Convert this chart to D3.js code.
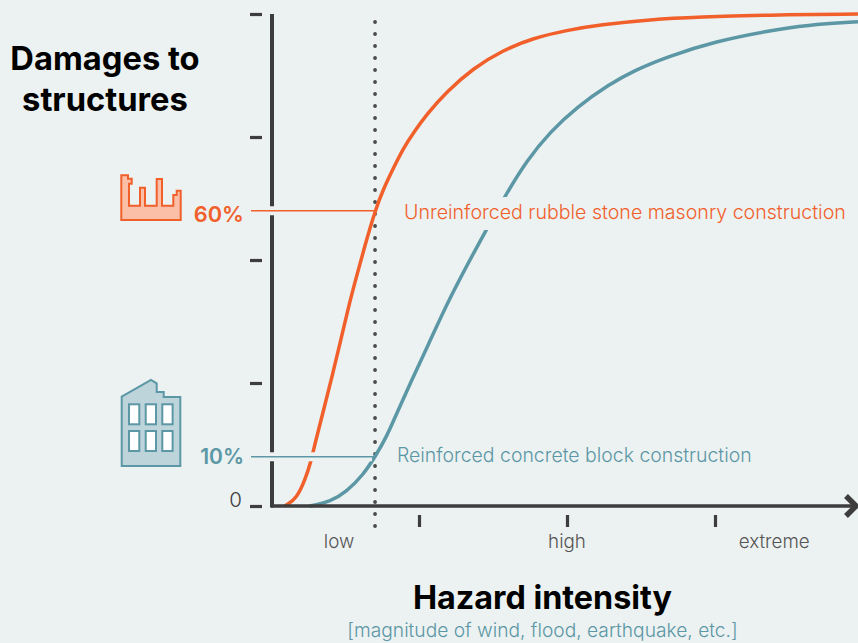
<!DOCTYPE html>
<html>
<head>
<meta charset="utf-8">
<script src="https://cdn.jsdelivr.net/npm/d3@7"></script>
<style>
    html, body { margin: 0; padding: 0; background: #ecf1f1; overflow: hidden; }
    svg { display: block; }
    text { font-family: "Inter", "Open Sans", sans-serif; }
</style>
</head>
<body>
<div id="chart"></div>
<script>
// Values: x in hazard units (low tick = 1, high = 2, extreme = 3), y in % damage
const orangeX = [0.09, 0.106, 0.174, 0.23, 0.27, 0.297, 0.353, 0.41, 0.466, 0.527, 0.572, 0.635, 0.703, 0.759, 0.826, 0.894, 0.961, 1.052, 1.187, 1.367, 1.57, 1.772, 1.998, 2.223, 2.561, 2.899, 3.349, 3.966];
const orangeY = [0, 0.2, 1.6, 5.3, 9, 12.7, 19.2, 26, 33, 40.9, 46, 53, 60, 64.4, 68.6, 72.7, 75.8, 79.6, 84.2, 89, 92.7, 95.1, 96.7, 97.8, 98.9, 99.4, 99.8, 100];
const tealX = [0.26, 0.284, 0.399, 0.511, 0.622, 0.703, 0.782, 0.849, 0.939, 1.059, 1.209, 1.446, 1.593, 1.728, 1.885, 2.066, 2.291, 2.446, 2.674, 3.011, 3.349, 3.62, 3.966];
const tealY = [0, 0.1, 0.9, 2.9, 6.3, 10, 14.1, 18.8, 24.8, 32.5, 42.5, 55.7, 63.6, 70.2, 76, 81.1, 85.8, 88.4, 91.3, 94.5, 96.5, 97.8, 98.4];
const xTicks = [1, 2, 3];
const yTicks = [0, 25, 50, 75, 100];
const xLabels = ["low", "high", "extreme"];
const xLabelPos = [0.46, 2, 3.4];
const marker = 0.703;
const markerValues = [60, 10];
const markerLabels = ["60%", "10%"];
const curveNames = ["Unreinforced rubble stone masonry construction", "Reinforced concrete block construction"];

const width = 858, height = 643;
const bg = "#ecf1f1", dark = "#3d3d3d", orange = "#f15f2b", teal = "#5b97a5";

const x = d3.scaleLinear().domain([0, 3]).range([271, 715]);
const y = d3.scaleLinear().domain([0, 100]).range([506, 14]);

const svg = d3.select("#chart").append("svg")
    .attr("width", width)
    .attr("height", height);

// Tick marks, set apart from the axis lines
const yAxis = svg.append("g")
    .attr("transform", "translate(262,0)")
    .call(d3.axisLeft(y).tickValues(yTicks).tickSize(12).tickFormat(""));
const xAxis = svg.append("g")
    .attr("transform", "translate(0,515)")
    .call(d3.axisBottom(x).tickValues(xTicks).tickSize(12).tickFormat(""));
[yAxis, xAxis].forEach(a => {
    a.select(".domain").remove();
    a.selectAll("line").attr("stroke", dark).attr("stroke-width", 3.2);
});

// Axis lines
svg.append("line")
    .attr("x1", x(0) + 1).attr("x2", x(0) + 1)
    .attr("y1", y(100)).attr("y2", y(0) + 1.5)
    .attr("stroke", dark).attr("stroke-width", 4);

// Dotted marker
svg.append("line")
    .attr("x1", x(marker)).attr("x2", x(marker))
    .attr("y1", 22).attr("y2", 528)
    .attr("stroke", "#4a4a4a").attr("stroke-width", 3.8)
    .attr("stroke-linecap", "round")
    .attr("stroke-dasharray", "0.1 11.9");

// Curves
const line = d3.line()
    .x(d => x(d[0]))
    .y(d => y(d[1]))
    .curve(d3.curveBasis);

svg.append("path")
    .attr("d", line(d3.zip(tealX, tealY)))
    .attr("fill", "none").attr("stroke", teal).attr("stroke-width", 3.5);
svg.append("path")
    .attr("d", line(d3.zip(orangeX, orangeY)))
    .attr("fill", "none").attr("stroke", orange).attr("stroke-width", 3.5);

// x axis goes over the feet of the curves
svg.append("line")
    .attr("x1", x(0)).attr("x2", 854)
    .attr("y1", y(0)).attr("y2", y(0))
    .attr("stroke", dark).attr("stroke-width", 3.5);
svg.append("path")
    .attr("d", `M846,${y(0) - 10}L856,${y(0)}L846,${y(0) + 10}`)
    .attr("fill", "none").attr("stroke", dark).attr("stroke-width", 5.5);

// Reference lines with a gap cut through whatever they cross
markerValues.forEach((v, i) => {
    const col = i === 0 ? orange : teal;
    svg.append("line")
        .attr("x1", 251).attr("x2", x(marker) - 3)
        .attr("y1", y(v)).attr("y2", y(v))
        .attr("stroke", bg).attr("stroke-width", 9);
    svg.append("line")
        .attr("x1", 251).attr("x2", x(marker))
        .attr("y1", y(v)).attr("y2", y(v))
        .attr("stroke", col).attr("stroke-width", 1.6);
    svg.append("text")
        .attr("x", 244).attr("y", y(v) + (i === 0 ? 11 : 7))
        .attr("text-anchor", "end")
        .attr("font-size", i === 0 ? 21.8 : 21).attr("font-weight", 600)
        .attr("fill", col)
        .text(markerLabels[i]);
});

// Curve names
svg.append("text")
    .attr("x", 404).attr("y", 219)
    .attr("font-size", 19.6).attr("font-weight", 300)
    .attr("fill", orange)
    .attr("stroke", bg).attr("stroke-width", 22).attr("paint-order", "stroke")
    .text(curveNames[0]);
svg.append("text")
    .attr("x", 397).attr("y", 462)
    .attr("font-size", 19.45).attr("font-weight", 300)
    .attr("fill", teal)
    .text(curveNames[1]);

// Axis text
svg.append("text")
    .attr("x", 242).attr("y", 507)
    .attr("text-anchor", "end")
    .attr("font-size", 20.5).attr("font-weight", 300)
    .attr("fill", dark)
    .text("0");
svg.selectAll(".xlab")
    .data(xLabels)
    .enter()
    .append("text")
    .attr("class", "xlab")
    .attr("x", (d, i) => x(xLabelPos[i]))
    .attr("y", 548)
    .attr("text-anchor", "middle")
    .attr("font-size", 18.8).attr("font-weight", 300)
    .attr("fill", "#555")
    .text(d => d);

// Titles
[["Damages to", 70], ["structures", 111]].forEach(t => {
    svg.append("text")
        .attr("x", 105).attr("y", t[1])
        .attr("text-anchor", "middle")
        .attr("font-size", 32.7).attr("font-weight", 700)
        .attr("fill", "#000")
        .text(t[0]);
});
svg.append("text")
    .attr("x", 542.5).attr("y", 609)
    .attr("text-anchor", "middle")
    .attr("font-size", 32.3).attr("font-weight", 700)
    .attr("fill", "#000")
    .text("Hazard intensity");
svg.append("text")
    .attr("x", 542.5).attr("y", 637)
    .attr("text-anchor", "middle")
    .attr("font-size", 19.2).attr("font-weight", 300)
    .attr("fill", teal)
    .text("[magnitude of wind, flood, earthquake, etc.]");

// Factory icon
svg.append("path")
    .attr("d", "M121.3,175.3H128V178.7H131.7V183.7H129V205.7H140V187.7H145V205.7H156.7V179H162V205.7H173.3V195H176.7V190.7H180.7V220H121.3Z")
    .attr("fill", "#fbbfa8").attr("stroke", orange).attr("stroke-width", 2);

// Building icon
svg.append("path")
    .attr("d", "M121.7,396.7L151,380L156.7,383.3V392H163.7V397H180.3V466H121.7Z")
    .attr("fill", "#bdd4db").attr("stroke", teal).attr("stroke-width", 2);
const winX = [129, 145.7, 162.3];
const winY = [404.3, 431];
winY.forEach(wy => winX.forEach(wx => {
    svg.append("rect")
        .attr("x", wx).attr("y", wy)
        .attr("width", 10.3).attr("height", 20)
        .attr("fill", "#fff").attr("stroke", teal).attr("stroke-width", 2);
}));
</script>
</body>
</html>
